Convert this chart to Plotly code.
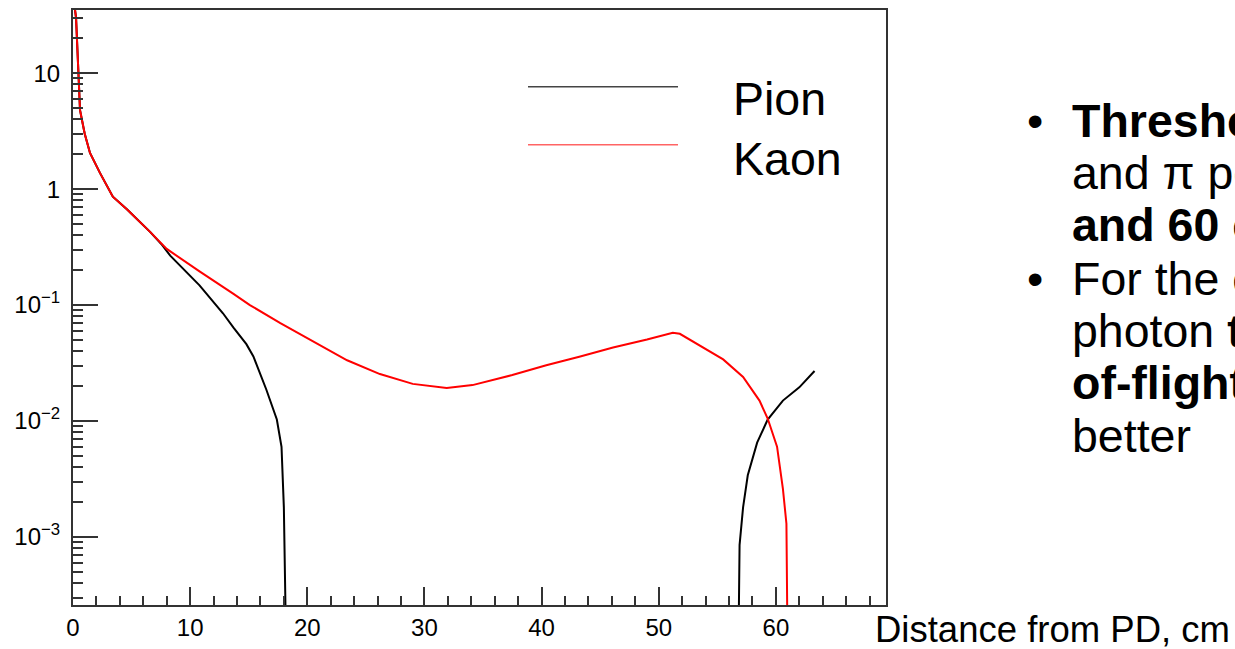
import plotly.graph_objects as go

# ---------------- data ----------------
kaon_x = [0.1, 0.26, 0.43, 0.6, 1.0, 1.45, 2.3, 3.4, 4.6, 5.5, 6.6, 8.0, 10.8, 13.7,
          15.1, 17.7, 20.5, 23.4, 26.2, 29.0, 31.9, 34.1, 37.5, 40.4, 43.3, 46.1,
          49.0, 51.2, 51.8, 53.5, 55.5, 57.2, 58.6, 59.3, 60.1, 60.6, 60.9, 61.0]
kaon_y = [40, 30, 12, 4.8, 3.0, 2.05, 1.38, 0.86, 0.67, 0.55, 0.426, 0.305, 0.195, 0.125,
          0.10, 0.070, 0.049, 0.0334, 0.0254, 0.0209, 0.0193, 0.0204, 0.0249, 0.0303, 0.036, 0.043,
          0.0504, 0.0578, 0.0565, 0.045, 0.034, 0.024, 0.015, 0.0105, 0.006, 0.0026, 0.0013, 0.0001]

pion_x = [0.1, 0.26, 0.43, 0.6, 1.0, 1.45, 2.3, 3.4, 4.6, 5.5, 6.6, 7.6, 8.3, 10.8, 12.8,
          13.7, 14.8, 15.4, 16.5, 17.4, 17.8, 18.0, 18.1, 18.2,
          None,
          56.8, 56.9, 57.2, 57.6, 58.4, 59.3, 60.6, 62.0, 63.3]
pion_y = [40, 30, 12, 4.8, 3.0, 2.05, 1.38, 0.86, 0.67, 0.55, 0.426, 0.33, 0.267, 0.148, 0.085,
          0.064, 0.046, 0.036, 0.0187, 0.0103, 0.006, 0.0018, 0.0006, 0.0001,
          None,
          0.0001, 0.00085, 0.0018, 0.0034, 0.0065, 0.0103, 0.015, 0.0195, 0.027]

x_range = [0, 69.4]
y_log_range = [-3.587, 1.545]
y_tickvals = [1e-3, 1e-2, 1e-1, 1, 10]
y_ticktext = ["10<sup>−3</sup>", "10<sup>−2</sup>", "10<sup>−1</sup>", "1", "10"]
x_tickvals = [0, 10, 20, 30, 40, 50, 60]

legend_names = ["Pion", "Kaon"]
legend_colors = ["#444444", "#ff6464"]

bullet_lines = [
    ("<b>Threshold separation of K</b>", True),
    ("and π possible <b>between 20</b>", False),
    ("<b>and 60 cm</b>", False),
    ("For the other distances,", True),
    ("photon <b>time-</b>", False),
    ("<b>of-flight</b> separation works", False),
    ("better", False),
]
x_title = "Distance from PD, cm"

# ---------------- layout geometry ----------------
W, H = 1235, 649
L, R, T, B = 73, 886, 8, 613
PW, PH = R - L, B - T


def px(xp):
    return (xp - L) / PW


def py(yp):
    return (B - yp) / PH


minor_y = [k * 10 ** d for d in range(-4, 2) for k in range(2, 10)]
minor_y = [v for v in minor_y if 10 ** y_log_range[0] < v < 10 ** y_log_range[1]]

fig = go.Figure()
fig.add_trace(go.Scatter(x=pion_x, y=pion_y, mode="lines", name="Pion",
                         line=dict(color="#000000", width=2), connectgaps=False,
                         showlegend=False))
fig.add_trace(go.Scatter(x=kaon_x, y=kaon_y, mode="lines", name="Kaon",
                         line=dict(color="#ff0000", width=2), showlegend=False))

font_family = "Liberation Sans, Arial, sans-serif"
tick_font = dict(size=24, color="#000", family=font_family)

fig.update_layout(
    width=W, height=H,
    margin=dict(l=L, r=W - R, t=T, b=H - B, pad=0),
    paper_bgcolor="white", plot_bgcolor="white",
    font=dict(family=font_family, color="#000"),
    xaxis=dict(range=x_range, showgrid=False, zeroline=False,
               showline=True, linecolor="#333", linewidth=2, mirror=True,
               ticks="inside", ticklen=18, tickwidth=2, tickcolor="#333",
               tickmode="array", tickvals=x_tickvals,
               tickfont=tick_font,
               minor=dict(dtick=2, ticks="inside", ticklen=9, tickwidth=2, tickcolor="#333")),
    yaxis=dict(type="log", range=y_log_range, showgrid=False, zeroline=False,
               showline=True, linecolor="#333", linewidth=2, mirror=True,
               ticks="inside", ticklen=25, tickwidth=2, tickcolor="#333",
               tickmode="array", tickvals=y_tickvals, ticktext=y_ticktext,
               ticklabelstandoff=6,
               tickfont=tick_font,
               minor=dict(tickmode="array", tickvals=minor_y, ticks="inside",
                          ticklen=10, tickwidth=2, tickcolor="#333")),
)

# legend drawn by hand (long sample lines, as in the original)
leg_y = [86, 145]
leg_text_y = [99, 160]
for name, col, ly, ty in zip(legend_names, legend_colors, leg_y, leg_text_y):
    fig.add_shape(type="line", xref="paper", yref="paper",
                  x0=px(528), x1=px(678), y0=py(ly), y1=py(ly),
                  line=dict(color=col, width=1.5))
    fig.add_annotation(xref="paper", yref="paper", x=px(731), y=py(ty),
                       xanchor="left", yanchor="middle", showarrow=False,
                       text=name, font=dict(size=46.5, color="#000", family=font_family))

# slide text on the right (runs off the edge of the slide, as in the original)
line_y = [121, 174, 227, 282, 334, 387, 441]
for (txt, bullet), ly in zip(bullet_lines, line_y):
    if bullet:
        fig.add_annotation(xref="paper", yref="paper", x=px(1035), y=py(ly),
                           xanchor="center", yanchor="middle", showarrow=False,
                           text="•", font=dict(size=46.5, color="#000", family=font_family))
    fig.add_annotation(xref="paper", yref="paper", x=px(1070), y=py(ly),
                       xanchor="left", yanchor="middle", showarrow=False,
                       text=txt, font=dict(size=46.5, color="#000", family=font_family))

fig.add_annotation(xref="paper", yref="paper", x=px(873), y=py(638),
                   xanchor="left", yanchor="middle", showarrow=False,
                   text=x_title, font=dict(size=36.5, color="#000", family=font_family))

fig.write_html("out.html", config={"displayModeBar": False},
               post_script="document.body.style.margin='0';")
